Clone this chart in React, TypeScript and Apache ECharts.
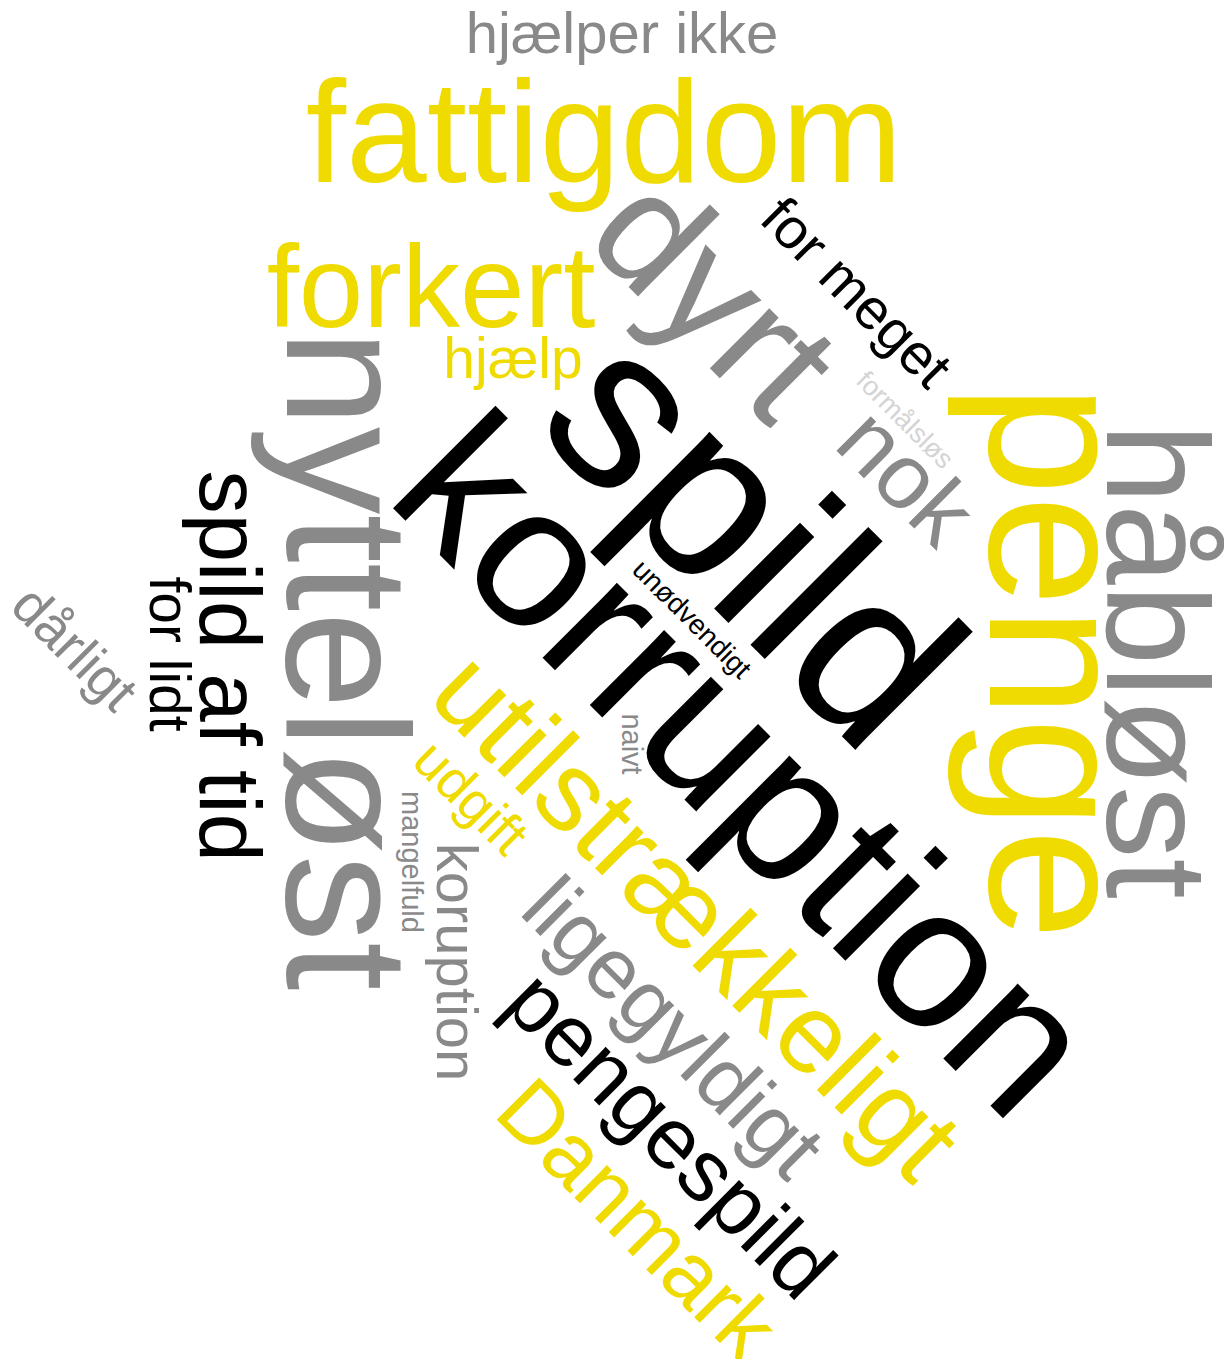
import React, { useEffect, useRef } from "react";
import * as echarts from "echarts";

const W = 1224;
const H = 1359;

// Words of the cloud
const words = [
  "hjælper ikke", "fattigdom", "forkert", "hjælp", "dyrt", "for meget",
  "nytteløst", "spild", "korruption", "penge", "håbløst", "nok",
  "formålsløs", "spild af tid", "for lidt", "dårligt", "unødvendigt",
  "utilstrækkeligt", "udgift", "naivt", "mangelfuld", "koruption",
  "ligegyldigt", "pengespild", "Danmark",
];

// Relative weight of each word (drives font size)
const weights = [
  58, 145, 116, 57, 160, 57,
  175, 230, 200, 200, 145, 92,
  27, 87, 57, 55, 28,
  113, 55, 29, 29, 58,
  86, 87, 87,
];

// Colour group of each word
const tones = [
  "gray", "yellow", "yellow", "yellow", "gray", "black",
  "gray", "black", "black", "yellow", "gray", "gray",
  "light", "black", "black", "gray", "black",
  "yellow", "yellow", "gray", "gray", "gray",
  "gray", "black", "yellow",
];

// Cloud layout: word centre (x, y) and rotation in degrees
const layout: [number, number, number][] = [
  [622, 32, 0], [604, 132, 0], [431, 287, 0], [513, 358, 0], [716, 296, -45], [857, 292, -45],
  [347, 660, -90], [755, 537, -45], [747, 764, -45], [1059, 662, -90], [1157, 661, -90], [907, 476, -45],
  [905, 420, -45], [230, 666, -90], [170, 654, -90], [75, 648, -45], [692, 619, -45],
  [697, 915, -45], [471, 797, -45], [632, 744, -90], [412, 862, -90], [457, 962, -90],
  [674, 1027, -45], [671, 1134, -45], [638, 1218, -45],
];

const palette: Record<string, string> = {
  yellow: "#F0DB00",
  gray: "#898989",
  black: "#000000",
  light: "#D4D4D4",
};

const FONT = "'Liberation Sans', Arial, Helvetica, sans-serif";

export default function App() {
  const ref = useRef<HTMLDivElement>(null);

  useEffect(() => {
    document.body.style.margin = "0";
    if (!ref.current) return;
    const chart = echarts.init(ref.current, undefined, { renderer: "svg" });

    const data = words.map((w, i) => ({
      name: w,
      value: [layout[i][0], layout[i][1]],
      label: {
        show: true,
        position: "inside",
        formatter: w,
        rotate: layout[i][2],
        fontSize: weights[i],
        color: palette[tones[i]],
        opacity: 1,
        fontFamily: FONT,
        fontWeight: "normal",
        align: "center",
        verticalAlign: "middle",
      },
    }));

    chart.setOption({
      animation: false,
      backgroundColor: "#ffffff",
      grid: { left: 0, right: 0, top: 0, bottom: 0, containLabel: false },
      xAxis: { type: "value", min: 0, max: W, show: false },
      yAxis: { type: "value", min: 0, max: H, inverse: true, show: false },
      series: [
        {
          type: "scatter",
          symbolSize: 1,
          itemStyle: { color: "rgba(0,0,0,0)" },
          silent: true,
          emphasis: { disabled: true },
          labelLayout: { hideOverlap: false },
          data,
        },
      ],
    });

    return () => chart.dispose();
  }, []);

  return <div ref={ref} style={{ width: W, height: H }} />;
}
